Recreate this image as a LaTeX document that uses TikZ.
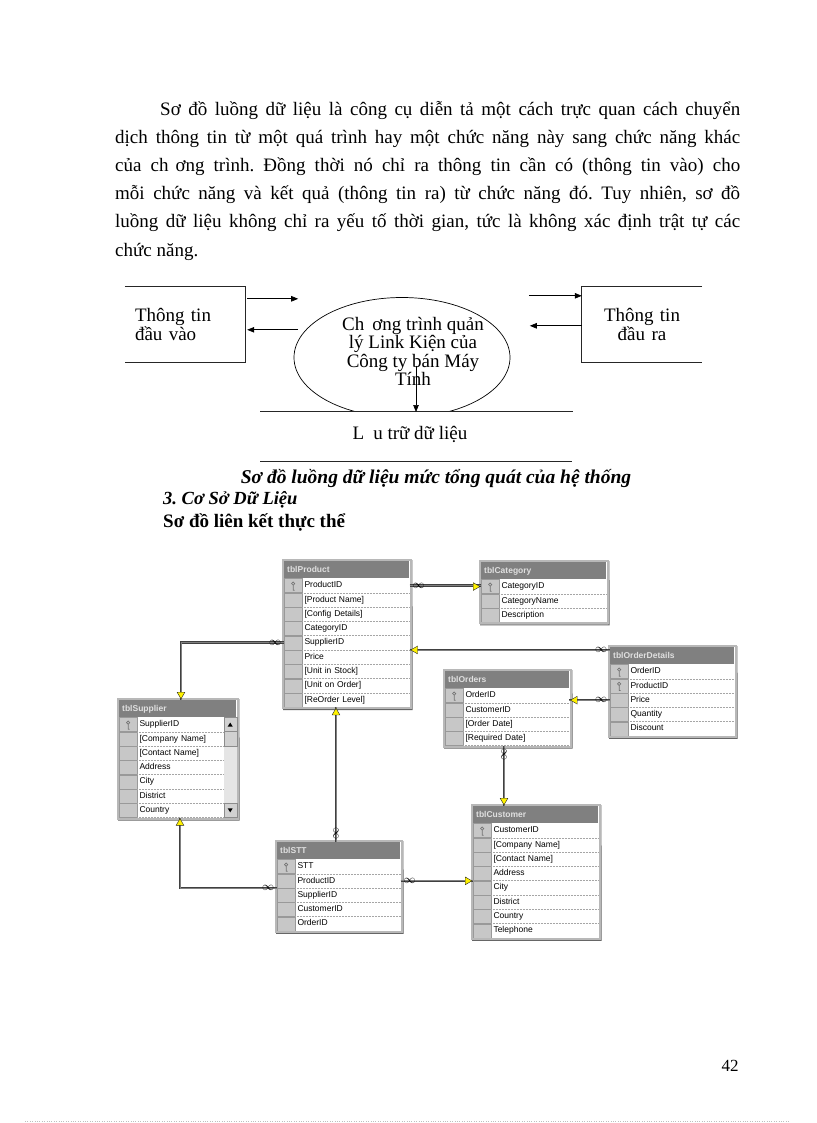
\documentclass[tikz,border=0pt]{standalone}
\usepackage{fontspec}
\setmainfont{Liberation Serif}
\newfontfamily\tblfont{Liberation Sans}
\usetikzlibrary{positioning,arrows.meta,shapes.geometric,calc}
\frenchspacing

% bang kieu Access: id, goc tren trai, rong, ten bang, so khoa, cac truong
\newcommand{\dbtable}[6]{%
	\pgfmathsetmacro{\ttlw}{#3-6}%
	\pgfmathsetmacro{\fldw}{#3-22}%
	\node[tbltitle, text width=\ttlw pt, anchor=north west] (#1) at #2 {#4};
	\xdef\lastcell{#1}%
	\foreach \fld [count=\i] in {#6} {
		\node[keycell, anchor=north west] (#1-k\i) at (\lastcell.south west) {};
		\node[fldcell, text width=\fldw pt, anchor=west] (#1-\i) at (#1-k\i.east) {\fld};
		\ifnum\i>#5\relax\else
			\draw[keyicon] ($(#1-k\i.center)+(0,-2)$) circle (1.6)
				($(#1-k\i.center)+(0,-0.4)$) -- ++(0,5) -- ++(1.5,0);
		\fi
		\xdef\lastcell{#1-k\i}%
		\xdef\lastfld{#1-\i}%
		\xdef\nrows{\i}%
	}
	\foreach \j in {1,...,\nrows}
		\draw[rowsep] (#1-\j.south west) -- (#1-\j.south east);
	\draw[tblshadow] ($(#1.north east)+(2.5,-1)$) -- ($(\lastfld.south east)+(2.5,2.5)$)
		-- ($(#1.west |- \lastfld.south)+(-1,2.5)$);
	\draw[tblframe] ($(#1.north west)+(-1,-1)$) rectangle ($(\lastfld.south east)+(1,1)$);
}

\begin{document}
\begin{tikzpicture}[
	x=1pt, y=-1pt,
	bodyline/.style={font=\fontsize{19}{28}\selectfont, inner sep=0pt, anchor=base west},
	dfdtxt/.style={font=\fontsize{19}{18.5}\selectfont, inner sep=0pt},
	extent/.style={dfdtxt, text width=100pt, inner xsep=10pt, minimum height=75pt},
	extline/.style={line width=0.7pt, black!85},
	proc/.style={ellipse, draw, line width=0.7pt, minimum width=216pt, minimum height=120pt},
	flow/.style={-{Triangle[length=7pt, width=5.5pt]}, line width=0.7pt},
	heading/.style={inner sep=0pt, anchor=base west},
	tbltitle/.style={fill=black!50, text=black!12, font=\tblfont\bfseries\fontsize{8.5}{9}\selectfont,
		inner xsep=3pt, inner ysep=0pt, minimum height=17pt, align=left, text height=6.5pt, text depth=1.5pt},
	keycell/.style={fill=black!22, draw=black!40, line width=0.3pt, minimum width=18pt, minimum height=14pt, inner sep=0pt},
	fldcell/.style={fill=white, font=\tblfont\fontsize{8.5}{9}\selectfont, inner xsep=2pt, inner ysep=0pt,
		minimum height=14pt, align=left, text height=6.2pt, text depth=1.8pt},
	rowsep/.style={black!35, line width=0.5pt, densely dotted},
	keyicon/.style={black!55, line width=0.7pt},
	tblframe/.style={black!28, line width=2pt},
	tblshadow/.style={black!60, line width=1pt},
	scrollbtn/.style={fill=black!18, draw=black!45, line width=0.4pt},
	rel/.style={draw=black!75, line width=0.9pt, double=black!50, double distance=0.8pt},
	many/.style={font=\fontsize{13}{13}\selectfont, inner sep=0pt},
	onekey/.style={isosceles triangle, isosceles triangle apex angle=60, inner sep=1.8pt,
		fill=yellow, draw=black!85, line width=0.4pt, shape border rotate=#1},
]
\fill[white] (0,0) rectangle (816,1123);
\useasboundingbox (0,0) rectangle (816,1123);

% --- Doan van ---
\node[bodyline] (p1) at (160,116) {\makebox[580pt][s]{Sơ đồ luồng dữ liệu là công cụ diễn tả một cách trực quan cách chuyển}};
\node[bodyline] (p2) at (115,144) {\makebox[625pt][s]{dịch thông tin từ một quá trình hay một chức năng này sang chức năng khác}};
\node[bodyline] (p3) at (115,172) {\makebox[625pt][s]{của ch\hspace{7pt}ơng trình. Đồng thời nó chỉ ra thông tin cần có (thông tin vào) cho}};
\node[bodyline] (p4) at (115,200) {\makebox[625pt][s]{mỗi chức năng và kết quả (thông tin ra) từ chức năng đó. Tuy nhiên, sơ đồ}};
\node[bodyline] (p5) at (115,228) {\makebox[625pt][s]{luồng dữ liệu không chỉ ra yếu tố thời gian, tức là không xác định trật tự các}};
\node[bodyline] (p6) at (115,256) {chức năng.};

% --- So do luong du lieu ---
\node[extent, align=left] (inent) at (185,324.5) {Thông tin\\đầu vào};
\node[extent, align=center] (outent) at (642,324.5) {Thông tin\\đầu ra};
\draw[extline] (inent.north west) -- (inent.north east) -- (inent.south east) -- (inent.south west);
\draw[extline] (outent.north east) -- (outent.north west) -- (outent.south west) -- (outent.south east);

\begin{scope}
	\clip (250,280) rectangle (560,411);
	\node[proc] (prog) at (402,357.5) {};
\end{scope}
\node[dfdtxt, align=center] (progtxt) at (413,351.5) {Ch\hspace{8pt}ơng trình quản\\lý Link Kiện của\\Công ty bán Máy\\Tính};

\node[dfdtxt] (store) at (410,434) {L\hspace{9pt}u trữ dữ liệu};
\draw[extline] ($(store)+(-150,-23)$) -- ($(store)+(163,-23)$);
\draw[extline] ($(store)+(-150,27)$) -- ($(store)+(162,27)$);

% luong vao / ra
\draw[flow] ($(inent.north east)+(2,12)$) -- ($(inent.north east)+(53,12)$);
\draw[flow] ($(inent.north east)+(53,43)$) -- ($(inent.north east)+(2,43)$);
\draw[flow] ($(outent.north west)+(-53,9)$) -- ($(outent.north west)+(0,9)$);
\draw[flow] ($(outent.north west)+(0,39)$) -- ($(outent.north west)+(-52,39)$);
\draw[flow] ($(prog.center)+(14,8)$) -- ($(store)+(6,-22)$);

% --- Tieu de ---
\node[inner sep=0pt, font=\fontsize{19.5}{20}\selectfont\bfseries\itshape] (cap1) at (436,479) {Sơ đồ luồng dữ liệu mức tổng quát của hệ thống};
\node[heading, font=\fontsize{18.5}{20}\selectfont\bfseries\itshape] (sec3) at (163,504) {3. Cơ Sở Dữ Liệu};
\node[heading, font=\fontsize{19}{20}\selectfont\bfseries] (erd) at (163,527) {Sơ đồ liên kết thực thể};

% --- Cac bang ---
\dbtable{prod}{(284,561)}{125}{tblProduct}{1}{ProductID,{[Product Name]},{[Config Details]},CategoryID,SupplierID,Price,{[Unit in Stock]},{[Unit on Order]},{[ReOrder Level]}}
\dbtable{cat}{(481,562)}{125}{tblCategory}{1}{CategoryID,CategoryName,Description}
\dbtable{odet}{(610,647)}{124}{tblOrderDetails}{2}{OrderID,ProductID,Price,Quantity,Discount}
\dbtable{ord}{(445,671)}{124}{tblOrders}{1}{OrderID,CustomerID,{[Order Date]},{[Required Date]}}
\dbtable{sup}{(119,700)}{117}{tblSupplier}{1}{SupplierID,{[Company Name]},{[Contact Name]},Address,City,District,Country}
\dbtable{stt}{(277,842)}{123}{tblSTT}{1}{STT,ProductID,SupplierID,CustomerID,OrderID}
\dbtable{cust}{(473,806)}{125}{tblCustomer}{1}{CustomerID,{[Company Name]},{[Contact Name]},Address,City,District,Country,Telephone}

% thanh cuon tblSupplier
\fill[black!10] ($(sup-1.north east)+(-13,0)$) rectangle (sup-7.south east);
\draw[scrollbtn] ($(sup-1.north east)+(-13,0)$) rectangle (sup-1.south east);
\draw[scrollbtn] ($(sup-2.north east)+(-13,0)$) rectangle (sup-2.south east);
\draw[scrollbtn] ($(sup-7.north east)+(-13,0)$) rectangle (sup-7.south east);
\fill ($(sup-1.east)+(-6.5,-2)$) -- ++(2.5,4) -- ++(-5,0) -- cycle;
\fill ($(sup-7.east)+(-6.5,2)$) -- ++(2.5,-4) -- ++(-5,0) -- cycle;

% --- Quan he ---
\coordinate (ordout) at ($(ord.west |- ord-4.south)+(59,0)$);
\coordinate (prodout) at ($(prod.west |- prod-9.south)+(52,0)$);
\coordinate (supin) at ($(sup.north west)+(62,0)$);
\coordinate (supout) at ($(sup.west |- sup-7.south)+(61,0)$);

\draw[rel] (prod-1.east) -- (prod-1.east -| cat-k1.west);
\draw[rel] (prod-5.south east) -- (prod-5.south east -| odet.west);
\draw[rel] (odet-k3.west -| ord.east) -- (odet-k3.west);
\draw[rel] (ordout) -- (ordout |- cust.north);
\draw[rel] (prodout) -- (prodout |- stt.north);
\draw[rel] (prod-k5.west) -| (supin);
\draw[rel] (supout) |- (stt-k2.south west);
\draw[rel] (stt-2.east) -- (stt-2.east -| cust.west);

% dau nhieu / dau mot
\node[many] (m1) at ($(prod-1.east)+(9,0)$) {\(\infty\)};
\node[onekey=0] (k1) at ($(cat-k1.west)+(-6,0)$) {};
\node[onekey=180] (k2) at ($(prod-5.south east)+(6,0)$) {};
\node[many] (m2) at ($(prod-5.south east -| odet.west)+(-9,0)$) {\(\infty\)};
\node[onekey=180] (k3) at ($(odet-k3.west -| ord.east)+(6,0)$) {};
\node[many] (m3) at ($(odet-k3.west)+(-9,0)$) {\(\infty\)};
\node[many, rotate=90] (m4) at ($(ordout)+(0,9)$) {\(\infty\)};
\node[onekey=270] (k4) at ($(ordout |- cust.north)+(0,-6)$) {};
\node[onekey=90] (k5) at ($(prodout)+(0,6)$) {};
\node[many, rotate=90] (m5) at ($(prodout |- stt.north)+(0,-9)$) {\(\infty\)};
\node[many] (m6) at ($(prod-k5.west)+(-9,0)$) {\(\infty\)};
\node[onekey=270] (k6) at ($(supin)+(0,-6)$) {};
\node[onekey=90] (k7) at ($(supout)+(0,6)$) {};
\node[many] (m7) at ($(stt-k2.south west)+(-9,0)$) {\(\infty\)};
\node[many] (m8) at ($(stt-2.east)+(9,0)$) {\(\infty\)};
\node[onekey=0] (k8) at ($(stt-2.east -| cust.west)+(-6,0)$) {};

% --- So trang ---
\node[inner sep=0pt, font=\fontsize{17}{18}\selectfont] (pgno) at (730,1066) {42};
\draw[black!25, dotted] (25,1121) -- (790,1121);
\end{tikzpicture}
\end{document}
